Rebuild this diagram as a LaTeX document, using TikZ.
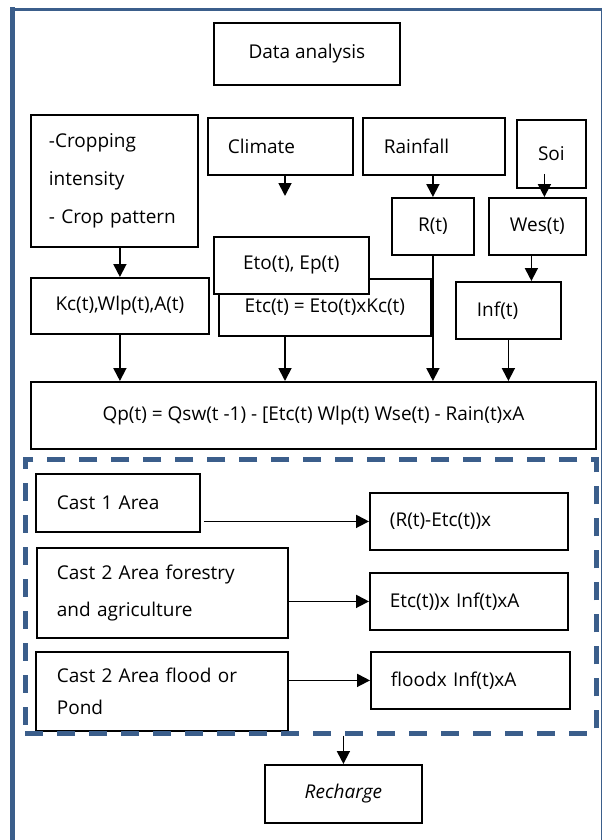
\documentclass[tikz,border=0pt]{standalone}
\usepackage{fontspec}
\setmainfont{Open Sans}
\usetikzlibrary{arrows.meta}
\definecolor{frameblue}{RGB}{59,94,139}

\begin{document}
\begin{tikzpicture}[x=1pt,y=-1pt,
  box/.style={draw=black, line width=1.8pt, fill=white, inner sep=0pt, anchor=north west, font=\fontsize{19}{23}\selectfont},
  lbox/.style={box, align=left, inner xsep=20pt},
  arr/.style={line width=1.8pt, -{Triangle[width=13pt,length=13pt]}},
  zone/.style={draw=frameblue, line width=4.5pt, dash pattern=on 18pt off 14pt, anchor=north west, inner sep=0pt}]
  \useasboundingbox (0,0) rectangle (603,840);
  % outer frame
  \draw[frameblue, line width=5pt] (12.5,840) -- (12.5,7);
  \draw[frameblue, line width=3pt] (10,9.5) -- (602,9.5);
  \draw[frameblue, line width=1.5pt] (601.5,8) -- (601.5,840);
  % inputs
  \node[box, minimum width=186pt, minimum height=62pt] (data) at (213,22) {Data analysis};
  \node[lbox, inner xsep=18pt, text width=131pt, minimum height=132pt, font=\fontsize{19}{38}\selectfont] (crop) at (30,114) {-Cropping\\intensity\\- Crop pattern};
  \node[lbox, text width=105pt, minimum height=57pt] (clim) at (207,117) {Climate};
  \node[lbox, inner xsep=21pt, text width=100pt, minimum height=57pt] (rain) at (362,117) {Rainfall};
  \node[box, minimum width=69pt, minimum height=68pt] (soi) at (516,119) {Soi};
  \node[box, minimum width=82pt, minimum height=57pt] (rt) at (391,197) {R(t)};
  \node[box, minimum width=97pt, minimum height=57pt] (wes) at (488,197) {Wes(t)};
  \node[box, minimum width=178pt, minimum height=56pt] (kc) at (30,277) {Kc(t),Wlp(t),A(t)};
  \node[box, minimum width=212pt, minimum height=57pt] (etc) at (218,278) {Etc(t) = Eto(t)xKc(t)};
  \node[box, minimum width=155pt, minimum height=57pt] (eto) at (213,236) {Eto(t), Ep(t)};
  \node[lbox, inner xsep=21pt, text width=63pt, minimum height=57pt] (inf) at (455,281) {Inf(t)};
  \node[box, minimum width=565pt, minimum height=67pt] (qp) at (30,381) {Qp(t) = Qsw(t -1) - [Etc(t) Wlp(t) Wse(t) - Rain(t)xA};
  % cases
  \node[lbox, inner xsep=21pt, text width=122pt, minimum height=58pt] (c1) at (35,473) {Cast 1 Area};
  \node[lbox, text width=158pt, minimum height=57pt] (r1) at (369,492) {(R(t)-Etc(t))x};
  \node[lbox, text width=211pt, minimum height=90pt, font=\fontsize{19}{37}\selectfont] (c2) at (36,547) {Cast 2 Area forestry\\and agriculture};
  \node[lbox, text width=158pt, minimum height=57pt] (e2) at (369,572) {Etc(t))x Inf(t)xA};
  \node[lbox, inner xsep=21pt, text width=210pt, minimum height=79pt, font=\fontsize{19}{32}\selectfont] (c3) at (35,651) {Cast 2 Area flood or\\Pond};
  \node[lbox, text width=159pt, minimum height=57pt] (f3) at (370,651) {floodx Inf(t)xA};
  \node[zone, minimum width=571pt, minimum height=274pt] (zone) at (23,457) {};
  \node[box, minimum width=157pt, minimum height=58pt, font=\fontsize{19}{23}\selectfont\itshape] (rech) at (264,764) {Recharge};
  % connectors
  \coordinate (climend) at (285,196);
  \coordinate (soiout) at ([xshift=-7pt,yshift=15pt]soi.south);
  \coordinate (wesout) at ([xshift=-6pt]wes.south);
  \draw[arr] (climend |- clim.south) -- (climend);
  \draw[arr] (rt.north |- rain.south) -- (rt.north);
  \draw[arr] (soiout) -- (soiout |- wes.north);
  \draw[arr] (crop.south -| kc.north) -- (kc.north);
  \draw[arr] (wesout) -- (wesout |- inf.north);
  \draw[arr] (kc.south) -- (kc.south |- qp.north);
  \draw[arr] (etc.south -| climend) -- (qp.north -| climend);
  \draw[arr] (rt.south) -- (rt.south |- qp.north);
  \draw[arr] (inf.south) -- (inf.south |- qp.north);
  \draw[arr, shorten <=3pt] (c1.east |- r1.west) -- (r1.west);
  \draw[arr] (c2.east |- e2.west) -- (e2.west);
  \draw[arr] (c3.east |- f3.west) -- (f3.west);
  \draw[arr] (zone.south -| rech.north) -- (rech.north);
\end{tikzpicture}
\end{document}
